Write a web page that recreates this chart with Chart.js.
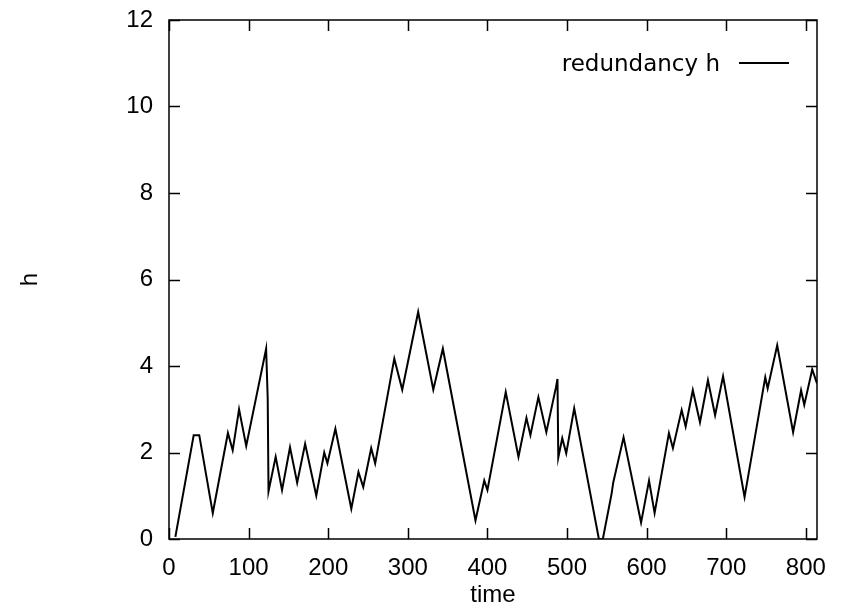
<!DOCTYPE html>
<html>
<head>
<meta charset="utf-8">
<script src="https://cdn.jsdelivr.net/npm/chart.js@4/dist/chart.umd.min.js"></script>
<style>
  html, body { margin: 0; padding: 0; background: #ffffff; }
  #wrap { width: 842px; height: 610px; }
</style>
</head>
<body>
<div id="wrap"><canvas id="c" width="842" height="610"></canvas></div>
<script>
// ---- data ----
const times = [8,31,38,55,74,80,88,97,122,124,125,134,142,152,161,171,185,195,199,209,229,238,244,254,259,283,293,313,332,344,385,396,400,423,439,449,454,464,474,486,488,489,494,499,509,540,545,556,558,571,593,603,610,628,633,644,649,658,667,677,686,696,723,749,752,764,784,794,798,808,814];
const redundancy = [0.05,2.4,2.4,0.6,2.45,2.05,3.0,2.15,4.4,3.25,1.1,1.9,1.13,2.12,1.3,2.2,1.0,2.0,1.75,2.55,0.7,1.55,1.2,2.1,1.75,4.17,3.45,5.25,3.45,4.4,0.43,1.35,1.13,3.4,1.9,2.8,2.4,3.28,2.47,3.5,3.7,1.88,2.33,1.98,3.02,0,0,1.05,1.3,2.35,0.38,1.35,0.6,2.45,2.1,2.98,2.6,3.44,2.7,3.67,2.86,3.76,0.97,3.74,3.48,4.48,2.47,3.44,3.1,3.92,3.6];
const seriesLabel = "redundancy h";
const xTitle = "time";
const yTitle = "h";
const xRange = [0, 814];
const yRange = [0, 12];
const xStep = 100;
const yStep = 2;

const points = times.map((t, i) => ({ x: t, y: redundancy[i] }));

const axisFont = { family: "'Liberation Sans', Arial, sans-serif", size: 24 };

// gnuplot-style frame with inward ticks on all four sides
const framePlugin = {
  id: 'frame',
  afterDraw(chart) {
    const { ctx, chartArea: a, scales } = chart;
    const tl = 11;
    ctx.save();
    ctx.strokeStyle = '#000';
    ctx.lineWidth = 1.5;
    ctx.strokeRect(a.left, a.top, a.right - a.left, a.bottom - a.top);
    ctx.beginPath();
    scales.x.ticks.forEach(t => {
      const px = Math.round(scales.x.getPixelForValue(t.value)) + 0.5;
      ctx.moveTo(px, a.bottom); ctx.lineTo(px, a.bottom - tl);
      ctx.moveTo(px, a.top); ctx.lineTo(px, a.top + tl);
    });
    scales.y.ticks.forEach(t => {
      const py = Math.round(scales.y.getPixelForValue(t.value)) + 0.5;
      ctx.moveTo(a.left, py); ctx.lineTo(a.left + tl, py);
      ctx.moveTo(a.right, py); ctx.lineTo(a.right - tl, py);
    });
    ctx.stroke();
    // key (text then line sample, like gnuplot)
    const ds = chart.data.datasets[0];
    ctx.font = "23px 'DejaVu Sans', sans-serif";
    ctx.fillStyle = '#000';
    ctx.textAlign = 'right';
    ctx.textBaseline = 'alphabetic';
    ctx.fillText(ds.label, 720, 71);
    ctx.beginPath();
    ctx.lineWidth = ds.borderWidth;
    ctx.strokeStyle = ds.borderColor;
    ctx.moveTo(739, 63); ctx.lineTo(789, 63);
    ctx.stroke();
    ctx.restore();
  }
};

new Chart(document.getElementById('c'), {
  type: 'line',
  data: {
    datasets: [{
      label: seriesLabel,
      data: points,
      borderColor: '#000',
      borderWidth: 2,
      pointRadius: 0,
      tension: 0,
      fill: false
    }]
  },
  options: {
    responsive: false,
    animation: false,
    layout: { padding: { top: 20, right: 25, left: 0, bottom: 0 } },
    plugins: { legend: { display: false }, tooltip: { enabled: false } },
    scales: {
      x: {
        type: 'linear',
        min: xRange[0], max: xRange[1],
        grid: { display: false, drawTicks: false },
        border: { display: false },
        ticks: { stepSize: xStep, includeBounds: false, color: '#000', font: axisFont, padding: 15, maxRotation: 0, autoSkip: false },
        title: { display: true, text: xTitle, color: '#000', font: axisFont, padding: { top: 0, bottom: 0 } },
        afterFit(s) { s.height = 71; s.paddingLeft = 0; s.paddingRight = 0; }
      },
      y: {
        type: 'linear',
        min: yRange[0], max: yRange[1],
        grid: { display: false, drawTicks: false },
        border: { display: false },
        ticks: { stepSize: yStep, color: '#000', font: axisFont, padding: 16 },
        title: { display: true, text: yTitle, color: '#000', font: axisFont, padding: { top: 16, bottom: 0 } },
        afterFit(s) { s.width = 169; s.paddingTop = 0; s.paddingBottom = 0; }
      }
    }
  },
  plugins: [framePlugin]
});
</script>
</body>
</html>
